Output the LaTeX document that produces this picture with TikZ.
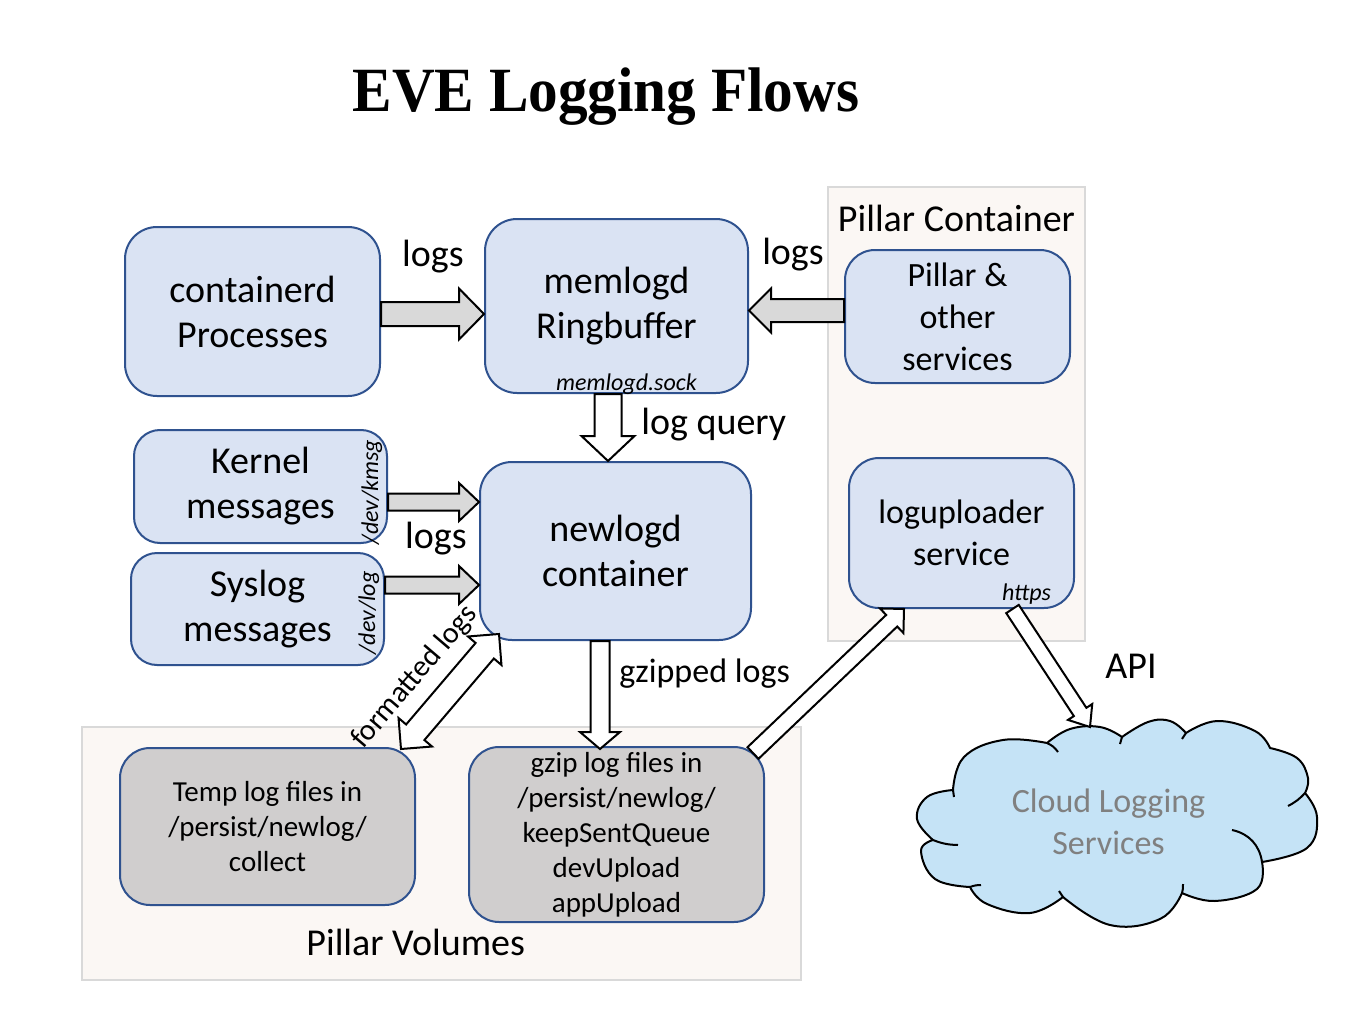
\documentclass[tikz,border=0pt]{standalone}
\usepackage{fontspec}
\setmainfont{Carlito}
\newfontfamily\titlefont{Liberation Serif}
\usetikzlibrary{calc}
\definecolor{boxfill}{RGB}{218,227,243}
\definecolor{boxline}{RGB}{47,82,143}
\definecolor{grayfill}{RGB}{208,206,206}
\definecolor{regfill}{RGB}{251,247,244}
\definecolor{regline}{RGB}{217,217,217}
\definecolor{arrowgray}{RGB}{217,217,217}
\definecolor{cloudfill}{RGB}{197,227,246}
\definecolor{cloudtext}{RGB}{128,128,128}
\tikzset{
  bluebox/.style={draw=boxline, fill=boxfill, line width=1pt, rounded corners=16pt, align=center, inner sep=0pt, font=\fontsize{19pt}{22.5pt}\selectfont},
  midbox/.style={bluebox, rounded corners=15pt, font=\fontsize{17pt}{21pt}\selectfont},
  graybox/.style={bluebox, fill=grayfill, rounded corners=15pt, font=\fontsize{14.5pt}{17.5pt}\selectfont},
  region/.style={draw=regline, fill=regfill, line width=1pt, inner sep=0pt},
  lbl/.style={inner sep=0pt, font=\fontsize{19pt}{22.5pt}\selectfont},
  midlbl/.style={inner sep=0pt, font=\fontsize{17pt}{21pt}\selectfont},
  smallit/.style={inner sep=0pt, font=\fontsize{12pt}{14pt}\selectfont\itshape},
  garrow/.style={draw=black, fill=arrowgray, line width=1pt},
  warrow/.style={draw=black, fill=white, line width=1pt},
  puff/.style={smooth, tension=0.7},
  fat/.style n args={3}{to path={
    ($(\tikztostart)!#1!90:(\tikztotarget)$)
    -- ($($(\tikztotarget)!#3!(\tikztostart)$)!#1!90:(\tikztotarget)$)
    -- ($($(\tikztotarget)!#3!(\tikztostart)$)!#2!90:(\tikztotarget)$)
    -- (\tikztotarget)
    -- ($($(\tikztotarget)!#3!(\tikztostart)$)!#2!-90:(\tikztotarget)$)
    -- ($($(\tikztotarget)!#3!(\tikztostart)$)!#1!-90:(\tikztotarget)$)
    -- ($(\tikztostart)!#1!-90:(\tikztotarget)$)
    -- cycle}},
  dfat/.style n args={3}{to path={
    (\tikztostart)
    -- ($($(\tikztostart)!#3!(\tikztotarget)$)!#2!90:(\tikztotarget)$)
    -- ($($(\tikztostart)!#3!(\tikztotarget)$)!#1!90:(\tikztotarget)$)
    -- ($($(\tikztotarget)!#3!(\tikztostart)$)!#1!90:(\tikztotarget)$)
    -- ($($(\tikztotarget)!#3!(\tikztostart)$)!#2!90:(\tikztotarget)$)
    -- (\tikztotarget)
    -- ($($(\tikztotarget)!#3!(\tikztostart)$)!#2!-90:(\tikztotarget)$)
    -- ($($(\tikztotarget)!#3!(\tikztostart)$)!#1!-90:(\tikztotarget)$)
    -- ($($(\tikztostart)!#3!(\tikztotarget)$)!#1!-90:(\tikztotarget)$)
    -- ($($(\tikztostart)!#3!(\tikztotarget)$)!#2!-90:(\tikztotarget)$)
    -- cycle}},
}
\begin{document}
\begin{tikzpicture}[x=0.5pt,y=-0.5pt]
\useasboundingbox (0,0) rectangle (1346,1028);
\fill[white] (0,0) rectangle (1346,1028);

% title
\node[inner sep=0pt, anchor=base, font=\titlefont\bfseries\fontsize{31.5pt}{36pt}\selectfont] (title) at (606,112) {\scalebox{0.94}[1]{EVE Logging Flows}};

% regions
\node[region, minimum width=128.5pt, minimum height=227pt] (pcreg) at (956.5,414) {};
\node[region, minimum width=359.5pt, minimum height=126.5pt] (pvreg) at (441.5,853.5) {};
\node[lbl, anchor=base] (pct) at (956.5,231) {Pillar Container};
\node[lbl, anchor=base west] (pvt) at (306,955) {Pillar Volumes};

% boxes
\node[bluebox, minimum width=127.5pt, minimum height=84.5pt] (cont) at (252.5,311.5) {containerd\\Processes};
\node[bluebox, minimum width=131.5pt, minimum height=87pt] (mem) at (616.5,306) {memlogd\\Ringbuffer};
\node[bluebox, rounded corners=13pt, minimum width=126.5pt, minimum height=56.5pt] (kern) at (260.5,486.5) {Kernel\\messages};
\node[bluebox, rounded corners=13pt, minimum width=126.5pt, minimum height=56pt] (sys) at (257.5,609) {Syslog\\messages};
\node[bluebox, minimum width=135.5pt, minimum height=89pt] (newl) at (615.5,551) {newlogd\\container};
\node[midbox, minimum width=112.5pt, minimum height=66.5pt] (pil) at (957.5,316.5) {Pillar \&\\other\\services};
\node[midbox, minimum width=112.5pt, minimum height=75pt] (upl) at (961.5,533) {loguploader\\service};
\node[graybox, minimum width=147.5pt, minimum height=78.5pt] (temp) at (267.5,826.5) {Temp log files in\\/persist/newlog/\\collect};
\node[graybox, minimum width=147.5pt, minimum height=87.5pt] (gz) at (616.5,834.5) {gzip log files in\\/persist/newlog/\\keepSentQueue\\devUpload\\appUpload};

% cloud
\filldraw[draw=black, fill=cloudfill, line width=1pt, line join=round]
  (953,790) -- plot[puff] coordinates {(953,790) (964,757) (1003,740) (1047,743)}
  -- plot[puff] coordinates {(1047,743) (1070,729) (1100,727) (1122,737)}
  -- plot[puff] coordinates {(1122,737) (1148,722) (1170,721) (1186,733)}
  -- plot[puff] coordinates {(1186,733) (1217,721) (1255,731) (1270,748)}
  -- plot[puff] coordinates {(1270,748) (1297,758) (1308,778) (1305,793)}
  -- plot[puff] coordinates {(1305,793) (1317,817) (1307,848) (1262,862)}
  -- plot[puff] coordinates {(1262,862) (1257,889) (1215,901) (1182,893)}
  -- plot[puff] coordinates {(1182,893) (1160,919) (1110,925) (1063,897)}
  -- plot[puff] coordinates {(1063,897) (1030,913) (987,904) (970,887)}
  -- plot[puff] coordinates {(970,887) (935,879) (921,851) (933,840)}
  -- plot[puff] coordinates {(933,840) (917,819) (927,797) (953,790)}
  -- cycle;
\draw[line width=1pt] (1047,743) to[bend left=15] (1058,752);
\draw[line width=1pt] (1122,737) -- (1120,744);
\draw[line width=1pt] (1186,733) -- (1182,739);
\draw[line width=1pt] (1305,793) to[bend left=10] (1288,806);
\draw[line width=1pt] (1232,830) to[bend left=35] (1262,862);
\draw[line width=1pt] (1182,893) to[bend right=10] (1183,884);
\draw[line width=1pt] (1063,897) -- (1059,891);
\draw[line width=1pt] (970,887) to[bend left=10] (981,885);
\draw[line width=1pt] (933,840) to[bend right=10] (958,845);
\draw[line width=1pt] (953,790) -- (954,797);
\node[inner sep=0pt, align=center, text=cloudtext, font=\fontsize{17pt}{21pt}\selectfont] (cld) at (1108.5,822) {Cloud Logging\\Services};
\coordinate (cldtop) at (1090,727);

% small italic labels
\node[smallit, anchor=base] (sock) at (626.5,390) {memlogd.sock};
\node[smallit, anchor=base] (https) at (1026.5,600) {https};
\node[smallit, anchor=base, rotate=90] (kmsg) at (378,492) {/dev/kmsg};
\node[smallit, anchor=base, rotate=90] (devlog) at (375,613) {/dev/log};

% arrow end points
\coordinate (a1s) at ([yshift=-1.25pt]cont.east);
\coordinate (a1e) at (a1s -| mem.west);
\coordinate (a2s) at ([yshift=3pt]pil.west);
\coordinate (a2e) at (a2s -| mem.east);
\coordinate (a3s) at ([yshift=-7.75pt]kern.east);
\coordinate (a3e) at (a3s -| newl.west);
\coordinate (a4s) at ([yshift=12pt]sys.east);
\coordinate (a4e) at (a4s -| newl.west);
\coordinate (a5s) at ([xshift=-4.25pt]mem.south);
\coordinate (a5e) at (a5s |- newl.north);
\coordinate (a6s) at ([xshift=-7.75pt]newl.south);
\coordinate (a6e) at ([yshift=-1.5pt]a6s |- gz.north);
\coordinate (a7s) at ([xshift=-7.5pt,yshift=-1pt]temp.north east);
\coordinate (a7e) at ([xshift=10pt,yshift=3.5pt]newl.south west);
\coordinate (a8s) at ([xshift=-6pt,yshift=-3.5pt]gz.north east);
\coordinate (a8e) at ([xshift=28pt]upl.south west);
\coordinate (a9s) at ([xshift=-31.25pt]upl.south east);

% arrows
\draw[garrow, fat={6pt}{12.75pt}{12.5pt}] (a1s) to (a1e);
\draw[garrow, fat={5.75pt}{11pt}{11pt}] (a2s) to (a2e);
\draw[garrow, fat={4.25pt}{9.5pt}{10pt}] (a3s) to (a3e);
\draw[garrow, fat={4.25pt}{9.5pt}{10pt}] (a4s) to (a4e);
\draw[warrow, fat={6.75pt}{13.25pt}{12.5pt}] (a5s) to (a5e);
\draw[warrow, fat={4.75pt}{10pt}{8.5pt}] (a6s) to (a6e);
\draw[warrow, dfat={6pt}{11pt}{11pt}] (a7s) to (a7e);
\draw[warrow, fat={4pt}{8.5pt}{8.5pt}] (a8s) to (a8e);
\draw[warrow, fat={3.75pt}{7.25pt}{9pt}] (a9s) to (cldtop);

% labels
\node[lbl, anchor=base] (l1) at (433,266) {logs};
\node[lbl, anchor=base] (l2) at (793,264) {logs};
\node[lbl, anchor=base] (l3) at (436,548) {logs};
\node[lbl, anchor=base west] (lq) at (641,434) {log query};
\node[midlbl, anchor=base west] (gzl) at (619,682) {gzipped logs};
\node[lbl, anchor=base west] (api) at (1105,678) {API};
\node[inner sep=0pt, rotate=49.5, font=\fontsize{15pt}{18pt}\selectfont] (fmt) at (415,677) {formatted logs};
\end{tikzpicture}
\end{document}
